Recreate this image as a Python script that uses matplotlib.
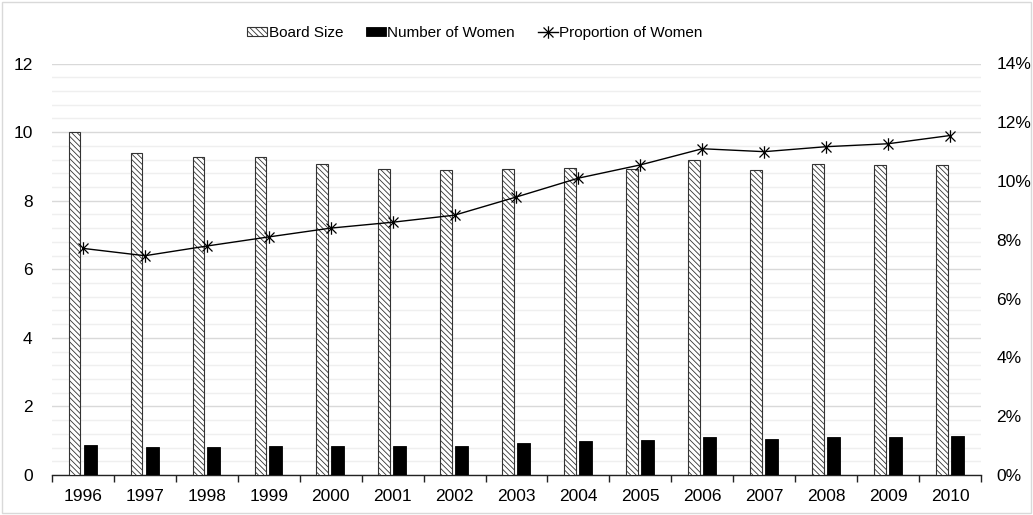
import matplotlib
matplotlib.use("Agg")
import matplotlib.pyplot as plt
import numpy as np
from matplotlib.path import Path
from matplotlib.patches import Rectangle
from matplotlib.ticker import FixedLocator, MultipleLocator, FuncFormatter

plt.rcParams['font.family'] = ['Liberation Sans', 'DejaVu Sans']
plt.rcParams['hatch.color'] = '#666666'
plt.rcParams['hatch.linewidth'] = 0.6

years = ['1996', '1997', '1998', '1999', '2000', '2001', '2002', '2003',
         '2004', '2005', '2006', '2007', '2008', '2009', '2010']
board_size = [10.0, 9.39, 9.28, 9.28, 9.07, 8.93, 8.90, 8.93,
              8.96, 8.93, 9.19, 8.88, 9.06, 9.04, 9.04]
num_women = [0.875, 0.81, 0.81, 0.84, 0.86, 0.86, 0.85, 0.93,
             0.99, 1.02, 1.10, 1.05, 1.10, 1.10, 1.14]
prop_women = [7.71, 7.46, 7.79, 8.10, 8.40, 8.60, 8.84, 9.46,
              10.10, 10.55, 11.10, 11.00, 11.17, 11.27, 11.55]

FS = 12.5

fig = plt.figure(figsize=(10.33, 5.15), dpi=100)
fig.patches.append(Rectangle((0.002, 0.004), 0.996, 0.992, transform=fig.transFigure,
                             fill=False, edgecolor='#d9d9d9', linewidth=1.0))

ax = fig.add_axes([52 / 1033, 1 - 475 / 515, 929 / 1033, (475 - 63.5) / 515])
x = np.arange(len(years))

ax.bar(x - 0.135, board_size, width=0.19, facecolor='white', edgecolor='#333333',
       linewidth=0.8, hatch='\\\\\\\\\\\\', label='Board Size', zorder=3)
ax.bar(x + 0.115, num_women, width=0.21, facecolor='black', edgecolor='black',
       linewidth=0.6, label='Number of Women', zorder=3)

ax.set_xlim(-0.5, len(years) - 0.5)
ax.set_ylim(0, 12)
ax.yaxis.set_major_locator(MultipleLocator(2))
ax.yaxis.set_minor_locator(MultipleLocator(0.4))
ax.grid(which='major', axis='y', color='#d9d9d9', linewidth=1.0, zorder=0)
ax.grid(which='minor', axis='y', color='#efefef', linewidth=1.0, zorder=0)
ax.set_axisbelow(True)

ax.set_xticks(x)
ax.set_xticklabels(years)
ax.xaxis.set_minor_locator(FixedLocator(np.arange(-0.5, len(years), 1.0)))
ax.tick_params(axis='x', which='major', length=0, labelsize=FS, pad=10)
ax.tick_params(axis='x', which='minor', length=5, width=1.0, color='#222222')
ax.tick_params(axis='y', which='both', length=0, labelsize=FS, pad=14)
for s in ['top', 'left', 'right']:
    ax.spines[s].set_visible(False)
ax.spines['bottom'].set_color('#222222')
ax.spines['bottom'].set_linewidth(1.0)

# right axis for the proportion series
ax2 = ax.twinx()
ax2.set_ylim(0, 0.14)
ax2.yaxis.set_major_locator(MultipleLocator(0.02))
ax2.yaxis.set_major_formatter(FuncFormatter(lambda v, p: f"{v * 100:.0f}%"))
ax2.tick_params(axis='y', length=0, labelsize=FS, pad=11)
for s in ['top', 'left', 'right', 'bottom']:
    ax2.spines[s].set_visible(False)

star = Path([(-1, -1), (1, 1), (-1, 1), (1, -1), (0, -1.25), (0, 1.25)],
            [Path.MOVETO, Path.LINETO, Path.MOVETO, Path.LINETO, Path.MOVETO, Path.LINETO])
ax2.plot(x, np.array(prop_women) / 100, color='black', linewidth=1.0,
         marker=star, markersize=9, markeredgewidth=0.9, markerfacecolor='black',
         markeredgecolor='black', label='Proportion of Women', zorder=5)

h1, l1 = ax.get_legend_handles_labels()
h2, l2 = ax2.get_legend_handles_labels()
fig.legend(h1 + h2, l1 + l2, loc='center', bbox_to_anchor=(475 / 1033, 1 - 33 / 515),
           ncol=3, frameon=False, fontsize=11, handlelength=1.3, handleheight=0.5,
           handletextpad=0.1, columnspacing=1.5)

fig.savefig('out.png', dpi=100)
